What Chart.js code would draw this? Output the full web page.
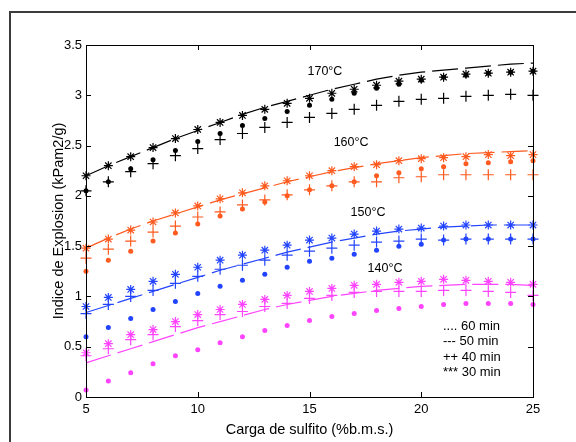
<!DOCTYPE html>
<html>
<head>
<meta charset="utf-8">
<script src="https://cdn.jsdelivr.net/npm/chart.js@4.4.1/dist/chart.umd.min.js"></script>
<style>
    html, body { margin: 0; padding: 0; background: #fff; overflow: hidden; }
    #frame { position: absolute; left: 9px; top: 11px; width: 600px; height: 500px; border: 2px solid #3c3c3c; }
    #chart { position: absolute; left: 0; top: 0; }
</style>
</head>
<body>
<div id="frame"></div>
<canvas id="chart" width="576" height="442"></canvas>
<script>
'use strict';

// Carga de sulfito (%b.m.s.)
const carga = [5, 6, 7, 8, 9, 10, 11, 12, 13, 14, 15, 16, 17, 18, 19, 20, 21, 22, 23, 24, 25];

// 170 C
const t170_60 = [2.05, 2.14, 2.27, 2.36, 2.45, 2.54, 2.62, 2.70, 2.77, 2.84, 2.90, 2.96, 3.02, 3.07, 3.11, 3.15, 3.18, 3.20, 3.22, 3.23, 3.24];
const t170_50 = [2.20, 2.30, 2.39, 2.48, 2.57, 2.65, 2.73, 2.81, 2.88, 2.94, 3.00, 3.06, 3.11, 3.16, 3.20, 3.23, 3.25, 3.27, 3.29, 3.31, 3.32];
const t170_40 = [2.05, 2.14, 2.24, 2.32, 2.40, 2.47, 2.56, 2.62, 2.68, 2.73, 2.78, 2.82, 2.86, 2.90, 2.94, 2.96, 2.97, 2.99, 3.00, 3.01, 3.00];
const t170_30 = [2.20, 2.30, 2.39, 2.48, 2.57, 2.66, 2.73, 2.80, 2.86, 2.92, 2.97, 3.02, 3.06, 3.10, 3.14, 3.16, 3.18, 3.21, 3.22, 3.23, 3.24];

// 160 C
const t160_60 = [1.25, 1.36, 1.45, 1.55, 1.63, 1.72, 1.80, 1.87, 1.94, 2.00, 2.06, 2.10, 2.14, 2.20, 2.23, 2.27, 2.29, 2.32, 2.33, 2.34, 2.35];
const t160_50 = [1.48, 1.58, 1.67, 1.75, 1.82, 1.89, 1.96, 2.02, 2.08, 2.14, 2.19, 2.24, 2.28, 2.32, 2.35, 2.38, 2.40, 2.42, 2.43, 2.44, 2.45];
const t160_40 = [1.38, 1.47, 1.55, 1.64, 1.70, 1.79, 1.84, 1.91, 1.96, 2.01, 2.06, 2.10, 2.14, 2.14, 2.18, 2.19, 2.21, 2.21, 2.21, 2.21, 2.21];
const t160_30 = [1.48, 1.57, 1.66, 1.74, 1.83, 1.90, 1.97, 2.03, 2.10, 2.15, 2.20, 2.25, 2.29, 2.31, 2.35, 2.37, 2.38, 2.39, 2.41, 2.40, 2.41];

// 150 C
const t150_60 = [0.60, 0.69, 0.78, 0.87, 0.95, 1.03, 1.10, 1.16, 1.22, 1.29, 1.35, 1.38, 1.42, 1.46, 1.50, 1.52, 1.56, 1.57, 1.57, 1.57, 1.57];
const t150_50 = [0.84, 0.91, 0.98, 1.05, 1.12, 1.19, 1.26, 1.32, 1.38, 1.44, 1.49, 1.54, 1.58, 1.62, 1.65, 1.67, 1.69, 1.70, 1.71, 1.71, 1.71];
const t150_40 = [0.83, 0.92, 1.00, 1.06, 1.13, 1.20, 1.27, 1.31, 1.36, 1.41, 1.45, 1.48, 1.51, 1.54, 1.55, 1.57, 1.56, 1.57, 1.57, 1.57, 1.57];
const t150_30 = [0.90, 0.99, 1.07, 1.15, 1.22, 1.29, 1.36, 1.41, 1.46, 1.51, 1.56, 1.58, 1.62, 1.65, 1.67, 1.68, 1.70, 1.71, 1.71, 1.71, 1.71];

// 140 C
const t140_60 = [0.07, 0.16, 0.24, 0.33, 0.41, 0.47, 0.54, 0.60, 0.66, 0.71, 0.76, 0.80, 0.83, 0.86, 0.88, 0.90, 0.92, 0.93, 0.93, 0.93, 0.92];
const t140_50 = [0.34, 0.41, 0.48, 0.55, 0.62, 0.69, 0.75, 0.81, 0.87, 0.92, 0.96, 1.00, 1.03, 1.06, 1.08, 1.10, 1.11, 1.12, 1.12, 1.12, 1.11];
const t140_40 = [0.41, 0.48, 0.57, 0.62, 0.70, 0.76, 0.82, 0.85, 0.90, 0.93, 0.98, 1.01, 1.04, 1.05, 1.05, 1.05, 1.06, 1.06, 1.05, 1.04, 1.01];
const t140_30 = [0.44, 0.53, 0.62, 0.67, 0.75, 0.82, 0.87, 0.92, 0.97, 1.01, 1.05, 1.08, 1.11, 1.12, 1.14, 1.15, 1.17, 1.16, 1.15, 1.14, 1.12];

const xTicks = [5, 10, 15, 20, 25];
const yTicks = [0, 0.5, 1, 1.5, 2, 2.5, 3, 3.5];

// labels inside the plot: [text, x, y] in data units
const tempLabels = [
    ['170\u00b0C', 15.69, 3.24],
    ['160\u00b0C', 16.86, 2.53],
    ['150\u00b0C', 17.62, 1.83],
    ['140\u00b0C', 18.38, 1.28],
];
const legendLines = ['.... 60 min', '--- 50 min', '++ 40 min', '*** 30 min'];

const FONT = "'Liberation Sans', Arial, sans-serif";

const toPoints = (vals) => vals.map((v, i) => ({ x: carga[i], y: v }));

const makeSeries = function (color, s60, s50, s40, s30) {
    return [
        {
            data: toPoints(s60), showLine: false, pointStyle: 'circle',
            pointRadius: 2.5, backgroundColor: color, borderColor: color,
            borderWidth: 0, clip: false,
        },
        {
            data: toPoints(s50), showLine: true, pointRadius: 0,
            borderColor: color, borderWidth: 1.2, borderDash: [26, 7],
            tension: 0, fill: false, clip: false,
        },
        {
            data: toPoints(s40), showLine: false, pointStyle: 'cross',
            pointRadius: 5.5, borderColor: color, borderWidth: 1.2, clip: false,
        },
        {
            data: toPoints(s30), showLine: false, pointStyle: 'star',
            pointRadius: 4.5, borderColor: color, borderWidth: 1.2, clip: false,
        },
    ];
};

const datasets = [].concat(
    makeSeries('#000000', t170_60, t170_50, t170_40, t170_30),
    makeSeries('#ff5a1f', t160_60, t160_50, t160_40, t160_30),
    makeSeries('#2244ff', t150_60, t150_50, t150_40, t150_30),
    makeSeries('#ff44ff', t140_60, t140_50, t140_40, t140_30)
);

// Box, inward ticks and texts like the matlab figure
const decorPlugin = {
    id: 'decor',
    afterDraw(chart) {
        const { ctx, chartArea: a, scales: { x, y } } = chart;
        ctx.save();
        ctx.strokeStyle = '#000';
        ctx.lineWidth = 1;
        ctx.strokeRect(a.left + 0.5, a.top + 0.5, a.right - a.left, a.bottom - a.top);

        ctx.beginPath();
        xTicks.forEach((v) => {
            const px = Math.round(x.getPixelForValue(v)) + 0.5;
            ctx.moveTo(px, a.bottom);
            ctx.lineTo(px, a.bottom - 5);
            ctx.moveTo(px, a.top);
            ctx.lineTo(px, a.top + 5);
        });
        yTicks.forEach((v) => {
            const py = Math.round(y.getPixelForValue(v)) + 0.5;
            ctx.moveTo(a.left, py);
            ctx.lineTo(a.left + 5, py);
            ctx.moveTo(a.right, py);
            ctx.lineTo(a.right - 5, py);
        });
        ctx.stroke();

        ctx.fillStyle = '#000';
        ctx.font = '12.5px ' + FONT;
        ctx.textAlign = 'center';
        ctx.textBaseline = 'middle';
        tempLabels.forEach(([txt, vx, vy]) => {
            ctx.fillText(txt, x.getPixelForValue(vx), y.getPixelForValue(vy));
        });

        ctx.font = '13px ' + FONT;
        ctx.textAlign = 'left';
        const lx = x.getPixelForValue(20.97);
        legendLines.forEach((txt, i) => {
            ctx.fillText(txt, lx, y.getPixelForValue(0.70) + i * 15.3);
        });
        ctx.restore();
    },
};

new Chart(document.getElementById('chart'), {
    type: 'scatter',
    data: { datasets: datasets },
    options: {
        responsive: false,
        animation: false,
        events: [],
        layout: { padding: { left: 50, top: 45, right: 43, bottom: 0 } },
        plugins: { legend: { display: false }, tooltip: { enabled: false } },
        scales: {
            x: {
                type: 'linear',
                min: 5,
                max: 25,
                afterFit: (scale) => { scale.height = 45; },
                afterBuildTicks: (scale) => { scale.ticks = xTicks.map((v) => ({ value: v })); },
                grid: { display: false, drawTicks: false },
                border: { display: false },
                ticks: {
                    padding: 5, color: '#000', font: { size: 13, family: FONT },
                    callback: (v) => String(v),
                },
                title: {
                    display: true,
                    text: 'Carga de sulfito (%b.m.s.)',
                    color: '#000',
                    font: { size: 14.5, family: FONT },
                    padding: { top: 0, bottom: 3 },
                },
            },
            y: {
                min: 0,
                max: 3.5,
                afterFit: (scale) => { scale.width = 36; },
                afterBuildTicks: (scale) => { scale.ticks = yTicks.map((v) => ({ value: v })); },
                grid: { display: false, drawTicks: false },
                border: { display: false },
                ticks: {
                    padding: 4, color: '#000', font: { size: 13, family: FONT },
                    callback: (v) => String(v),
                },
                title: {
                    display: true,
                    text: 'Indice de Explosion (kPam2/g)',
                    color: '#000',
                    font: { size: 14.5, family: FONT },
                    padding: { top: 0, bottom: 0 },
                },
            },
        },
    },
    plugins: [decorPlugin],
});
</script>
</body>
</html>
